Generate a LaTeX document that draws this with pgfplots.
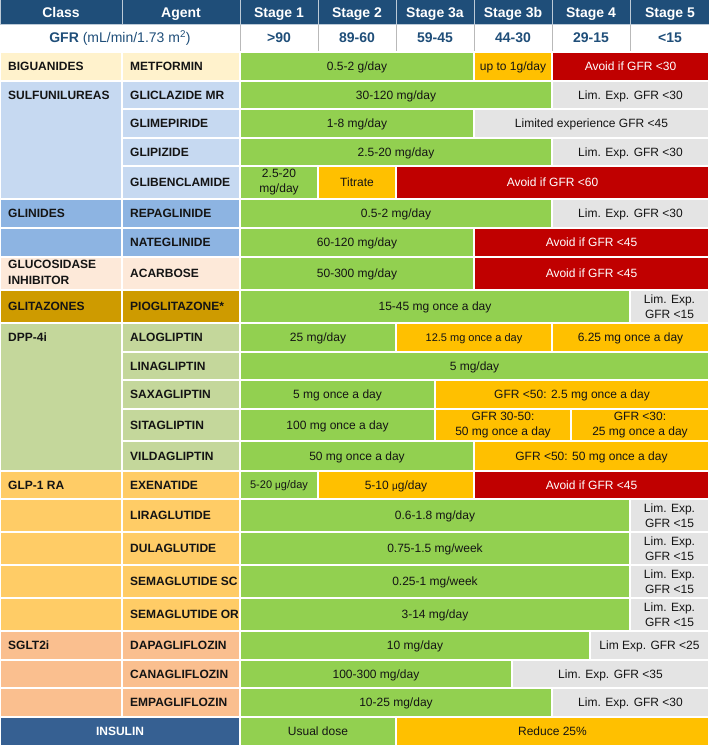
\documentclass[border=0pt]{standalone}
\usepackage{pgfplots}
\pgfplotsset{compat=1.18}
\usepackage{fontspec}
\setmainfont{Liberation Sans}
\usetikzlibrary{calc}
\definecolor{hdr}{HTML}{1F4E79}
\definecolor{gfr}{HTML}{1F4E79}
\definecolor{cG}{HTML}{92D050}
\definecolor{cO}{HTML}{FFC000}
\definecolor{cR}{HTML}{C00000}
\definecolor{cY}{HTML}{E4E4E4}
\definecolor{big}{HTML}{FFF2CC}
\definecolor{sul}{HTML}{C6D9F1}
\definecolor{gli}{HTML}{8DB4E2}
\definecolor{glu}{HTML}{FDE9D9}
\definecolor{gtz}{HTML}{CE9B00}
\definecolor{dpp}{HTML}{C4D79B}
\definecolor{glp}{HTML}{FFCC66}
\definecolor{sgl}{HTML}{FABF8F}
\definecolor{ins}{HTML}{366092}
\tikzset{
 ct/.style={font=\fontsize{12bp}{15bp}\selectfont, text=black!92, inner sep=0pt, text height=8.6bp, text depth=0pt},
 two/.style={align=center, text height={}, text depth={}},
 lab/.style={font=\bfseries\fontsize{12bp}{16bp}\selectfont, text=black!92, anchor=west, inner sep=0pt, align=left},
 hd/.style={font=\bfseries\fontsize{14bp}{16bp}\selectfont, text=white, inner sep=0pt, text height=10bp, text depth=0pt},
 gf/.style={font=\fontsize{14bp}{16bp}\selectfont, text=gfr, inner sep=0pt, text height=10bp, text depth=0pt}
}
% [node opts]{x1}{x2}{y1}{y2}{fill}{text}
\newcommand{\cell}[7][]{%
 \addplot[fill=#6,draw=white,line width=1.3bp,mark=none] coordinates {(#2,#4) (#3,#4) (#3,#5) (#2,#5)} -- cycle;
 \node[ct,#1] at ($(axis cs:#2,#4)!0.5!(axis cs:#3,#5)$) {#7};
}
% {x1}{x2}{y1}{y2}{fill}
\newcommand{\fbx}[5]{%
 \addplot[fill=#5,draw=white,line width=1.3bp,mark=none] coordinates {(#1,#3) (#2,#3) (#2,#4) (#1,#4)} -- cycle;
}
\newcommand{\lab}[3]{\node[lab] at (axis cs:#1,#2) {#3};}
\newcommand{\mic}{{\fontsize{10bp}{12bp}\selectfont μ}}
\begin{document}
\begin{tikzpicture}
\begin{axis}[width=709bp, height=746bp, scale only axis,
 xmin=0, xmax=709, ymin=0, ymax=746, y dir=reverse,
 hide axis]
% header
\addplot[fill=hdr,draw=white!70!hdr,line width=1bp,mark=none] coordinates {(0,0) (122,0) (122,25) (0,25)} -- cycle;
\addplot[fill=hdr,draw=white!70!hdr,line width=1bp,mark=none] coordinates {(122,0) (240,0) (240,25) (122,25)} -- cycle;
\addplot[fill=hdr,draw=white!70!hdr,line width=1bp,mark=none] coordinates {(240,0) (318,0) (318,25) (240,25)} -- cycle;
\addplot[fill=hdr,draw=white!70!hdr,line width=1bp,mark=none] coordinates {(318,0) (396,0) (396,25) (318,25)} -- cycle;
\addplot[fill=hdr,draw=white!70!hdr,line width=1bp,mark=none] coordinates {(396,0) (474,0) (474,25) (396,25)} -- cycle;
\addplot[fill=hdr,draw=white!70!hdr,line width=1bp,mark=none] coordinates {(474,0) (552,0) (552,25) (474,25)} -- cycle;
\addplot[fill=hdr,draw=white!70!hdr,line width=1bp,mark=none] coordinates {(552,0) (630,0) (630,25) (552,25)} -- cycle;
\addplot[fill=hdr,draw=white!70!hdr,line width=1bp,mark=none] coordinates {(630,0) (709,0) (709,25) (630,25)} -- cycle;
\node[hd] at (axis cs:61,12.5) {Class};
\node[hd] at (axis cs:181,12.5) {Agent};
\node[hd] at (axis cs:279,12.5) {Stage 1};
\node[hd] at (axis cs:357,12.5) {Stage 2};
\node[hd] at (axis cs:435,12.5) {Stage 3a};
\node[hd] at (axis cs:513,12.5) {Stage 3b};
\node[hd] at (axis cs:591,12.5) {Stage 4};
\node[hd] at (axis cs:670,12.5) {Stage 5};
% GFR row separators
\addplot[draw=gray!55,line width=1bp,mark=none] coordinates {(240,25) (240,51)};
\addplot[draw=gray!55,line width=1bp,mark=none] coordinates {(318,25) (318,51)};
\addplot[draw=gray!55,line width=1bp,mark=none] coordinates {(396,25) (396,51)};
\addplot[draw=gray!55,line width=1bp,mark=none] coordinates {(474,25) (474,51)};
\addplot[draw=gray!55,line width=1bp,mark=none] coordinates {(552,25) (552,51)};
\addplot[draw=gray!55,line width=1bp,mark=none] coordinates {(630,25) (630,51)};
\node[gf] at (axis cs:120,38) {\textbf{GFR} (mL/min/1.73 m\textsuperscript{2})};
\node[gf,font=\bfseries\fontsize{14bp}{16bp}\selectfont] at (axis cs:279,38) {>90};
\node[gf,font=\bfseries\fontsize{14bp}{16bp}\selectfont] at (axis cs:357,38) {89-60};
\node[gf,font=\bfseries\fontsize{14bp}{16bp}\selectfont] at (axis cs:435,38) {59-45};
\node[gf,font=\bfseries\fontsize{14bp}{16bp}\selectfont] at (axis cs:513,38) {44-30};
\node[gf,font=\bfseries\fontsize{14bp}{16bp}\selectfont] at (axis cs:591,38) {29-15};
\node[gf,font=\bfseries\fontsize{14bp}{16bp}\selectfont] at (axis cs:670,38) {<15};
% class column
\fbx{0}{122}{52}{81}{big}
\fbx{0}{122}{81}{199}{sul}
\fbx{0}{122}{199}{228}{gli}
\fbx{0}{122}{228}{257}{gli}
\fbx{0}{122}{257}{290}{glu}
\fbx{0}{122}{290}{323}{gtz}
\fbx{0}{122}{323}{471}{dpp}
\fbx{0}{122}{471}{499}{glp}
\fbx{0}{122}{499}{532}{glp}
\fbx{0}{122}{532}{565}{glp}
\fbx{0}{122}{565}{598}{glp}
\fbx{0}{122}{598}{631}{glp}
\fbx{0}{122}{631}{660}{sgl}
\fbx{0}{122}{660}{688}{sgl}
\fbx{0}{122}{688}{717}{sgl}
\lab{8}{66.5}{BIGUANIDES}
\lab{8}{95}{SULFUNILUREAS}
\lab{8}{213.5}{GLINIDES}
\lab{8}{272.5}{GLUCOSIDASE\\INHIBITOR}
\lab{8}{306.5}{GLITAZONES}
\lab{8}{337.5}{DPP-4i}
\lab{8}{485}{GLP-1 RA}
\lab{8}{645.5}{SGLT2i}
% agent column
\fbx{122}{240}{52}{81}{big}
\fbx{122}{240}{81}{109}{sul}
\fbx{122}{240}{109}{138}{sul}
\fbx{122}{240}{138}{166}{sul}
\fbx{122}{240}{166}{199}{sul}
\fbx{122}{240}{199}{228}{gli}
\fbx{122}{240}{228}{257}{gli}
\fbx{122}{240}{257}{290}{glu}
\fbx{122}{240}{290}{323}{gtz}
\fbx{122}{240}{323}{352}{dpp}
\fbx{122}{240}{352}{380}{dpp}
\fbx{122}{240}{380}{409}{dpp}
\fbx{122}{240}{409}{441}{dpp}
\fbx{122}{240}{441}{471}{dpp}
\fbx{122}{240}{471}{499}{glp}
\fbx{122}{240}{499}{532}{glp}
\fbx{122}{240}{532}{565}{glp}
\fbx{122}{240}{565}{598}{glp}
\fbx{122}{240}{598}{631}{glp}
\fbx{122}{240}{631}{660}{sgl}
\fbx{122}{240}{660}{688}{sgl}
\fbx{122}{240}{688}{717}{sgl}
\lab{130}{66.5}{METFORMIN}
\lab{130}{95}{GLICLAZIDE MR}
\lab{130}{123.5}{GLIMEPIRIDE}
\lab{130}{152}{GLIPIZIDE}
\lab{130}{182.5}{GLIBENCLAMIDE}
\lab{130}{213.5}{REPAGLINIDE}
\lab{130}{242.5}{NATEGLINIDE}
\lab{130}{273.5}{ACARBOSE}
\lab{130}{306.5}{PIOGLITAZONE*}
\lab{130}{337.5}{ALOGLIPTIN}
\lab{130}{366}{LINAGLIPTIN}
\lab{130}{394.5}{SAXAGLIPTIN}
\lab{130}{425}{SITAGLIPTIN}
\lab{130}{456}{VILDAGLIPTIN}
\lab{130}{485}{EXENATIDE}
\lab{130}{515.5}{LIRAGLUTIDE}
\lab{130}{548.5}{DULAGLUTIDE}
\lab{130}{581.5}{SEMAGLUTIDE SC}
\lab{130}{614.5}{SEMAGLUTIDE OR}
\lab{130}{645.5}{DAPAGLIFLOZIN}
\lab{130}{674}{CANAGLIFLOZIN}
\lab{130}{702.5}{EMPAGLIFLOZIN}
% stage cells
\cell{240}{474}{52}{81}{cG}{0.5-2 g/day}
\cell{474}{552}{52}{81}{cO}{up to 1g/day}
\cell[text=white]{552}{709}{52}{81}{cR}{Avoid if GFR <30}
\cell{240}{552}{81}{109}{cG}{30-120 mg/day}
\cell{552}{709}{81}{109}{cY}{Lim. Exp. GFR <30}
\cell{240}{474}{109}{138}{cG}{1-8 mg/day}
\cell{474}{709}{109}{138}{cY}{Limited experience GFR <45}
\cell{240}{552}{138}{166}{cG}{2.5-20 mg/day}
\cell{552}{709}{138}{166}{cY}{Lim. Exp. GFR <30}
\cell[two]{240}{318}{166}{199}{cG}{2.5-20\\mg/day}
\cell{318}{396}{166}{199}{cO}{Titrate}
\cell[text=white]{396}{709}{166}{199}{cR}{Avoid if GFR <60}
\cell{240}{552}{199}{228}{cG}{0.5-2 mg/day}
\cell{552}{709}{199}{228}{cY}{Lim. Exp. GFR <30}
\cell{240}{474}{228}{257}{cG}{60-120 mg/day}
\cell[text=white]{474}{709}{228}{257}{cR}{Avoid if GFR <45}
\cell{240}{474}{257}{290}{cG}{50-300 mg/day}
\cell[text=white]{474}{709}{257}{290}{cR}{Avoid if GFR <45}
\cell{240}{630}{290}{323}{cG}{15-45 mg once a day}
\cell[two]{630}{709}{290}{323}{cY}{Lim. Exp.\\GFR <15}
\cell{240}{396}{323}{352}{cG}{25 mg/day}
\cell[font=\fontsize{11bp}{13bp}\selectfont, text height=7.9bp]{396}{552}{323}{352}{cO}{12.5 mg once a day}
\cell{552}{709}{323}{352}{cO}{6.25 mg once a day}
\cell{240}{709}{352}{380}{cG}{5 mg/day}
\cell{240}{435}{380}{409}{cG}{5 mg once a day}
\cell{435}{709}{380}{409}{cO}{GFR <50: 2.5 mg once a day}
\cell{240}{435}{409}{441}{cG}{100 mg once a day}
\cell[two]{435}{571}{409}{441}{cO}{GFR 30-50:\\50 mg once a day}
\cell[two]{571}{709}{409}{441}{cO}{GFR <30:\\25 mg once a day}
\cell{240}{474}{441}{471}{cG}{50 mg once a day}
\cell{474}{709}{441}{471}{cO}{GFR <50: 50 mg once a day}
\cell[font=\fontsize{11bp}{13bp}\selectfont, text height=7.9bp]{240}{318}{471}{499}{cG}{5-20 \mic g/day}
\cell{318}{474}{471}{499}{cO}{5-10 \mic g/day}
\cell[text=white]{474}{709}{471}{499}{cR}{Avoid if GFR <45}
\cell{240}{630}{499}{532}{cG}{0.6-1.8 mg/day}
\cell[two]{630}{709}{499}{532}{cY}{Lim. Exp.\\GFR <15}
\cell{240}{630}{532}{565}{cG}{0.75-1.5 mg/week}
\cell[two]{630}{709}{532}{565}{cY}{Lim. Exp.\\GFR <15}
\cell{240}{630}{565}{598}{cG}{0.25-1 mg/week}
\cell[two]{630}{709}{565}{598}{cY}{Lim. Exp.\\GFR <15}
\cell{240}{630}{598}{631}{cG}{3-14 mg/day}
\cell[two]{630}{709}{598}{631}{cY}{Lim. Exp.\\GFR <15}
\cell{240}{590}{631}{660}{cG}{10 mg/day}
\cell{590}{709}{631}{660}{cY}{Lim Exp. GFR <25}
\cell{240}{512}{660}{688}{cG}{100-300 mg/day}
\cell{512}{709}{660}{688}{cY}{Lim. Exp. GFR <35}
\cell{240}{552}{688}{717}{cG}{10-25 mg/day}
\cell{552}{709}{688}{717}{cY}{Lim. Exp. GFR <30}
\cell[text=white, font=\bfseries\fontsize{12bp}{14bp}\selectfont]{0}{240}{717}{746}{ins}{INSULIN}
\cell{240}{396}{717}{746}{cG}{Usual dose}
\cell{396}{709}{717}{746}{cO}{Reduce 25\%}
\end{axis}
\end{tikzpicture}
\end{document}
